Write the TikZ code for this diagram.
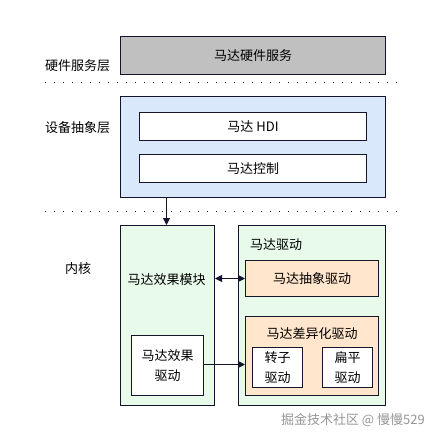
\documentclass[tikz,border=0pt]{standalone}
\usepackage{fontspec}
\usepackage{xcolor}
\usepackage{tikz}
\usetikzlibrary{arrows.meta, positioning}
\setmainfont{Noto Sans CJK SC}
\definecolor{mydark}{RGB}{20,20,45}
\definecolor{hdrgray}{RGB}{192,192,192}
\definecolor{hdrblue}{RGB}{218,232,252}
\definecolor{hdrgreen}{RGB}{232,250,234}
\definecolor{hdrpeach}{RGB}{255,230,204}
\definecolor{wmgray}{RGB}{150,150,150}
\tikzset{
  box/.style={rectangle, draw=mydark, line width=1pt, inner sep=0pt,
    font=\fontsize{13}{15}\selectfont},
  whitebox/.style={box, fill=white},
  twoline/.style={box, fill=white, align=center, font=\fontsize{13}{20}\selectfont},
  txt/.style={font=\fontsize{13}{15}\selectfont, inner sep=0pt},
  layerlabel/.style={txt, anchor=west},
  sepline/.style={line width=1pt, dash pattern=on 1pt off 8pt, color=mydark},
  arrow/.style={-{Triangle[length=7pt, width=7pt]}, line width=1pt, color=mydark},
  biarrow/.style={{Triangle[length=7pt, width=7pt]}-{Triangle[length=7pt, width=7pt]},
    line width=1pt, color=mydark}
}

\begin{document}
\begin{tikzpicture}[x=1pt, y=-1pt]
  \useasboundingbox[fill=white] (0,0) rectangle (439,442);
  % Hardware service layer
  \node[box, fill=hdrgray, minimum width=265pt, minimum height=38pt] (hws) at (253,55.5) {马达硬件服务};
  \node[layerlabel] (lhws) at (45,66) {硬件服务层};
  \draw[sepline] (45,82.5) -- (404,82.5);

  % Device abstraction layer
  \node[box, fill=hdrblue, minimum width=265pt, minimum height=101pt] (hal) at (253,147) {};
  \node[layerlabel] (lhal) at (45,128) {设备抽象层};
  \node[whitebox, minimum width=227pt, minimum height=28pt] (hdi) at (253,126.5) {马达 HDI};
  \node[whitebox, minimum width=227pt, minimum height=28pt] (ctrl) at (253,168.5) {马达控制};
  \draw[sepline] (45,211.5) -- (400,211.5);

  % Kernel
  \node[layerlabel] (lkernel) at (65,269) {内核};
  \node[box, fill=hdrgreen, minimum width=94pt, minimum height=180pt] (effect) at (167.5,315.5) {};
  \node[txt] (effectlbl) at (166.7,279.3) {马达效果模块};
  \node[twoline, minimum width=72pt, minimum height=60pt] (effdrv) at (167.5,365.5) {马达效果\\驱动};

  \node[box, fill=hdrgreen, minimum width=147pt, minimum height=180pt] (drv) at (312,315.5) {};
  \node[txt, anchor=west] (drvlbl) at (250,245) {马达驱动};
  \node[box, fill=hdrpeach, minimum width=133pt, minimum height=36pt] (absdrv) at (312,278.5) {马达抽象驱动};
  \node[box, fill=hdrpeach, minimum width=133pt, minimum height=79pt] (diffdrv) at (312,356) {};
  \node[txt] (difflbl) at (312,333.3) {马达差异化驱动};
  \node[twoline, minimum width=50pt, minimum height=40pt] (rotor) at (277.5,367.5) {转子\\驱动};
  \node[twoline, minimum width=50pt, minimum height=40pt] (flat) at (347.5,367.5) {扁平\\驱动};

  % Connectors
  \draw[arrow] (hal.south -| 166.5,0) -- (effect.north -| 166.5,0);
  \draw[biarrow] (effect.east |- absdrv.west) -- (absdrv.west);
  \draw[arrow] (effdrv.east |- 0,364.5) -- (diffdrv.west |- 0,364.5);

  % Watermark
  \node[txt, color=wmgray, anchor=east] (wm) at (425,420) {掘金技术社区 @ 慢慢529};
\end{tikzpicture}
\end{document}
